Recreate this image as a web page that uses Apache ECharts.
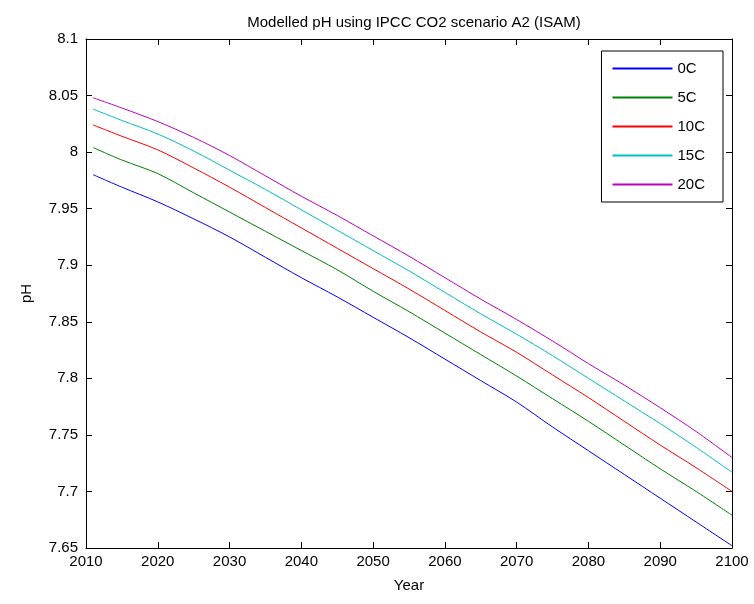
<!DOCTYPE html>
<html>
<head>
<meta charset="utf-8">
<script src="https://cdn.jsdelivr.net/npm/echarts@6/dist/echarts.min.js"></script>
<style>html,body{margin:0;padding:0;background:#fff}#c{width:754px;height:604px}</style>
</head>
<body>
<div id="c"></div>
<script>
const years = [2011, 2015, 2020, 2025, 2030, 2035, 2040, 2045, 2050, 2055, 2060, 2065, 2070, 2075, 2080, 2085, 2090, 2095, 2100];
const ph0C  = [7.980, 7.969, 7.956, 7.941, 7.925, 7.907, 7.889, 7.872, 7.854, 7.836, 7.817, 7.798, 7.779, 7.757, 7.736, 7.715, 7.694, 7.673, 7.652];
const ph5C  = [8.004, 7.993, 7.981, 7.964, 7.947, 7.930, 7.913, 7.896, 7.877, 7.859, 7.840, 7.821, 7.802, 7.782, 7.762, 7.741, 7.720, 7.700, 7.679];
const ph10C = [8.024, 8.014, 8.002, 7.986, 7.969, 7.951, 7.933, 7.915, 7.897, 7.879, 7.860, 7.841, 7.823, 7.803, 7.783, 7.762, 7.741, 7.721, 7.700];
const ph15C = [8.038, 8.028, 8.016, 8.001, 7.984, 7.967, 7.949, 7.931, 7.913, 7.895, 7.876, 7.857, 7.839, 7.820, 7.800, 7.780, 7.760, 7.739, 7.717];
const ph20C = [8.048, 8.039, 8.027, 8.013, 7.997, 7.979, 7.961, 7.944, 7.926, 7.908, 7.889, 7.870, 7.852, 7.833, 7.813, 7.794, 7.774, 7.753, 7.730];
const seriesNames = ['0C', '5C', '10C', '15C', '20C'];
const seriesData = [ph0C, ph5C, ph10C, ph15C, ph20C];
const colors = ['#0000ff', '#008000', '#ff0000', '#00bfbf', '#bf00bf'];

const font = 'Liberation Sans, Arial, sans-serif';
const chart = echarts.init(document.getElementById('c'), null, {renderer: 'canvas'});
const axisLine = {show: true, onZero: false, lineStyle: {color: '#000', width: 1}};
const tick = {show: true, inside: true, length: 6, lineStyle: {color: '#000', width: 1}};
chart.setOption({
  backgroundColor: '#fff',
  animation: false,
  color: colors,
  title: {
    text: 'Modelled pH using IPCC CO2 scenario A2 (ISAM)',
    left: 409, top: 10, textAlign: 'center',
    textStyle: {fontFamily: font, fontSize: 15, fontWeight: 'normal', color: '#000'}
  },
  grid: {left: 86, right: 22, top: 39, bottom: 56, containLabel: false},
  legend: {
    orient: 'vertical', right: 31, top: 51,
    itemWidth: 60, itemHeight: 14, itemGap: 14,
    padding: [10, 18, 10, 10],
    borderColor: '#000', borderWidth: 1, backgroundColor: '#fff',
    itemStyle: {opacity: 0},
    textStyle: {fontFamily: font, fontSize: 15, color: '#000'},
    data: seriesNames
  },
  xAxis: [{
    type: 'value', min: 2010, max: 2100, interval: 10,
    name: 'Year', nameLocation: 'middle', nameGap: 30,
    nameTextStyle: {fontFamily: font, fontSize: 15, color: '#000'},
    axisLine, axisTick: tick, splitLine: {show: false},
    axisLabel: {fontFamily: font, fontSize: 15, color: '#000', margin: 6, formatter: v => String(v)}
  }, {
    type: 'value', min: 2010, max: 2100, interval: 10, position: 'top',
    axisLine, axisTick: tick, splitLine: {show: false}, axisLabel: {show: false}
  }],
  yAxis: [{
    type: 'value', min: 7.65, max: 8.1, interval: 0.05,
    name: 'pH', nameLocation: 'middle', nameGap: 52,
    nameTextStyle: {fontFamily: font, fontSize: 15, color: '#000'},
    axisLine, axisTick: tick, splitLine: {show: false},
    axisLabel: {fontFamily: font, fontSize: 15, color: '#000', margin: 8,
      formatter: v => String(parseFloat(v.toFixed(2)))}
  }, {
    type: 'value', min: 7.65, max: 8.1, interval: 0.05, position: 'right',
    axisLine, axisTick: tick, splitLine: {show: false}, axisLabel: {show: false}
  }],
  series: seriesNames.map((n, i) => ({
    name: n, type: 'line', symbol: 'none', smooth: 0.3,
    lineStyle: {width: 1, color: colors[i]},
    itemStyle: {color: colors[i]},
    data: years.map((y, j) => [y, seriesData[i][j]])
  }))
});
</script>
</body>
</html>
